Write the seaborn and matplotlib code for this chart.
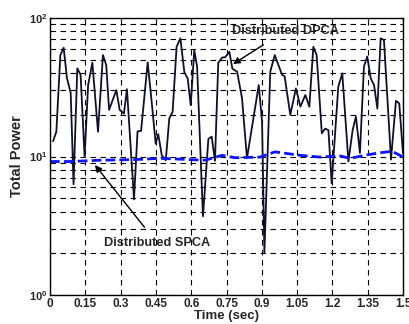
import numpy as np
import pandas as pd
import matplotlib
matplotlib.use('Agg')
import matplotlib.pyplot as plt
import seaborn as sns

# Distributed DPCA total power
dpca_time = [0.013, 0.027, 0.044, 0.058, 0.072, 0.088, 0.100, 0.116, 0.130, 0.147,
             0.162, 0.180, 0.204, 0.225, 0.239, 0.251, 0.282, 0.296, 0.314, 0.327,
             0.357, 0.372, 0.387, 0.415, 0.432, 0.449, 0.460, 0.475, 0.492, 0.507,
             0.521, 0.538, 0.554, 0.571, 0.585, 0.598, 0.613, 0.625, 0.650, 0.673,
             0.687, 0.701, 0.715, 0.732, 0.744, 0.762, 0.775, 0.795, 0.816, 0.837,
             0.887, 0.901, 0.911, 0.936, 0.955, 0.986, 0.997, 1.021, 1.045, 1.064,
             1.085, 1.102, 1.119, 1.133, 1.155, 1.169, 1.183, 1.197, 1.225, 1.242,
             1.268, 1.286, 1.300, 1.317, 1.334, 1.348, 1.363, 1.377, 1.391, 1.405,
             1.419, 1.449, 1.470, 1.484, 1.500]
dpca_power = [12.9, 15.1, 54, 61, 36.9, 28.7, 6.3, 43.3, 38.9, 10.0,
              32.8, 47.5, 15.1, 54, 45.7, 21.7, 30.2, 21.7, 20.4, 30.6,
              4.9, 15.2, 15.3, 47.8, 24.9, 12.4, 14.5, 10.2, 9.4, 18.9,
              21.0, 62, 71.3, 40.5, 36.6, 23.5, 58.5, 44.6, 3.7, 13.4,
              13.9, 9.3, 47.5, 51.9, 52, 57, 43, 41, 26.3, 9.7,
              32.8, 18.0, 2.0, 41, 54, 38.9, 37.9, 20.0, 31, 22.9,
              27.8, 22.9, 62, 54, 14.7, 15.9, 15.5, 6.4, 31.9, 39.8,
              9.2, 15.5, 19.4, 10.6, 44.6, 52.7, 36.6, 32.8, 22.2, 71.3,
              69.4, 9.5, 25.2, 24.2, 10.5]

# Distributed SPCA total power
spca_time = [0.0, 0.085, 0.213, 0.361, 0.467, 0.595, 0.659, 0.731, 0.786, 0.892,
             0.956, 1.062, 1.147, 1.232, 1.275, 1.338, 1.394, 1.453, 1.487, 1.5]
spca_power = [9.2, 9.2, 9.4, 9.5, 9.7, 9.5, 9.4, 10.2, 9.8, 9.9,
              10.8, 10.2, 9.9, 10.1, 9.7, 10.2, 10.6, 10.9, 10.2, 9.9]

x_ticks = [0, 0.15, 0.3, 0.45, 0.6, 0.75, 0.9, 1.05, 1.2, 1.35, 1.5]
x_tick_labels = ['0', '0.15', '0.3', '0.45', '0.6', '0.75', '0.9', '1.05', '1.2', '1.35', '1.5']

dpca = pd.DataFrame({'time': dpca_time, 'power': dpca_power})
spca = pd.DataFrame({'time': spca_time, 'power': spca_power})

sns.set_style('white')
plt.rcParams['font.family'] = ['Liberation Sans', 'DejaVu Sans']
plt.rcParams['font.weight'] = 'bold'
plt.rcParams['mathtext.fontset'] = 'custom'
plt.rcParams['mathtext.bf'] = 'Liberation Sans:bold'
plt.rcParams['mathtext.rm'] = 'Liberation Sans:bold'

fig = plt.figure(figsize=(4.09, 3.24), dpi=100)
ax = fig.add_axes([50 / 409, 1 - 295 / 324, 353 / 409, 277 / 324])

sns.lineplot(data=dpca, x='time', y='power', ax=ax, color='#10102a', lw=1.3,
             estimator=None, sort=False)
sns.lineplot(data=spca, x='time', y='power', ax=ax, color='#0a14ff', lw=2.0,
             estimator=None, sort=False, linestyle=(0, (3.5, 1.5)))

ax.set_yscale('log')
ax.set_xlim(0, 1.5)
ax.set_ylim(1, 100)
ax.set_xticks(x_ticks)
ax.set_xticklabels(x_tick_labels, fontsize=8.5, fontweight='bold')
ax.set_yticks([1, 10, 100])
ax.set_yticklabels([r'$\mathbf{10^{0}}$', r'$\mathbf{10^{1}}$', r'$\mathbf{10^{2}}$'], fontsize=8)

# Matlab-like dashed grid
ax.grid(True, which='major', axis='both', color='black', linestyle=(0, (5, 4)), lw=0.8)
ax.grid(True, which='minor', axis='y', color='black', linestyle=(0, (5, 4)), lw=0.8)
ax.tick_params(which='both', direction='in', top=True, right=True, length=3, pad=2)
ax.tick_params(which='minor', length=2)
for s in ax.spines.values():
    s.set_color('black')
    s.set_linewidth(1.0)

ax.set_xlabel('Time (sec)', fontsize=9.5, fontweight='bold', labelpad=0)
ax.set_ylabel('Total Power', fontsize=10.5, fontweight='bold', labelpad=3)

ax.annotate('Distributed DPCA', xy=(0.778, 46.5), xytext=(0.999, 80.5),
            fontsize=9.2, fontweight='bold', ha='center', va='center',
            arrowprops=dict(arrowstyle='-|>', color='black', lw=1.0, shrinkA=6, shrinkB=0,
                            mutation_scale=10))
ax.annotate('Distributed SPCA', xy=(0.191, 8.68), xytext=(0.455, 2.37),
            fontsize=9.2, fontweight='bold', ha='center', va='center',
            arrowprops=dict(arrowstyle='-|>', color='black', lw=1.0, shrinkA=6, shrinkB=0,
                            mutation_scale=10))

fig.savefig('out.png', dpi=100)
